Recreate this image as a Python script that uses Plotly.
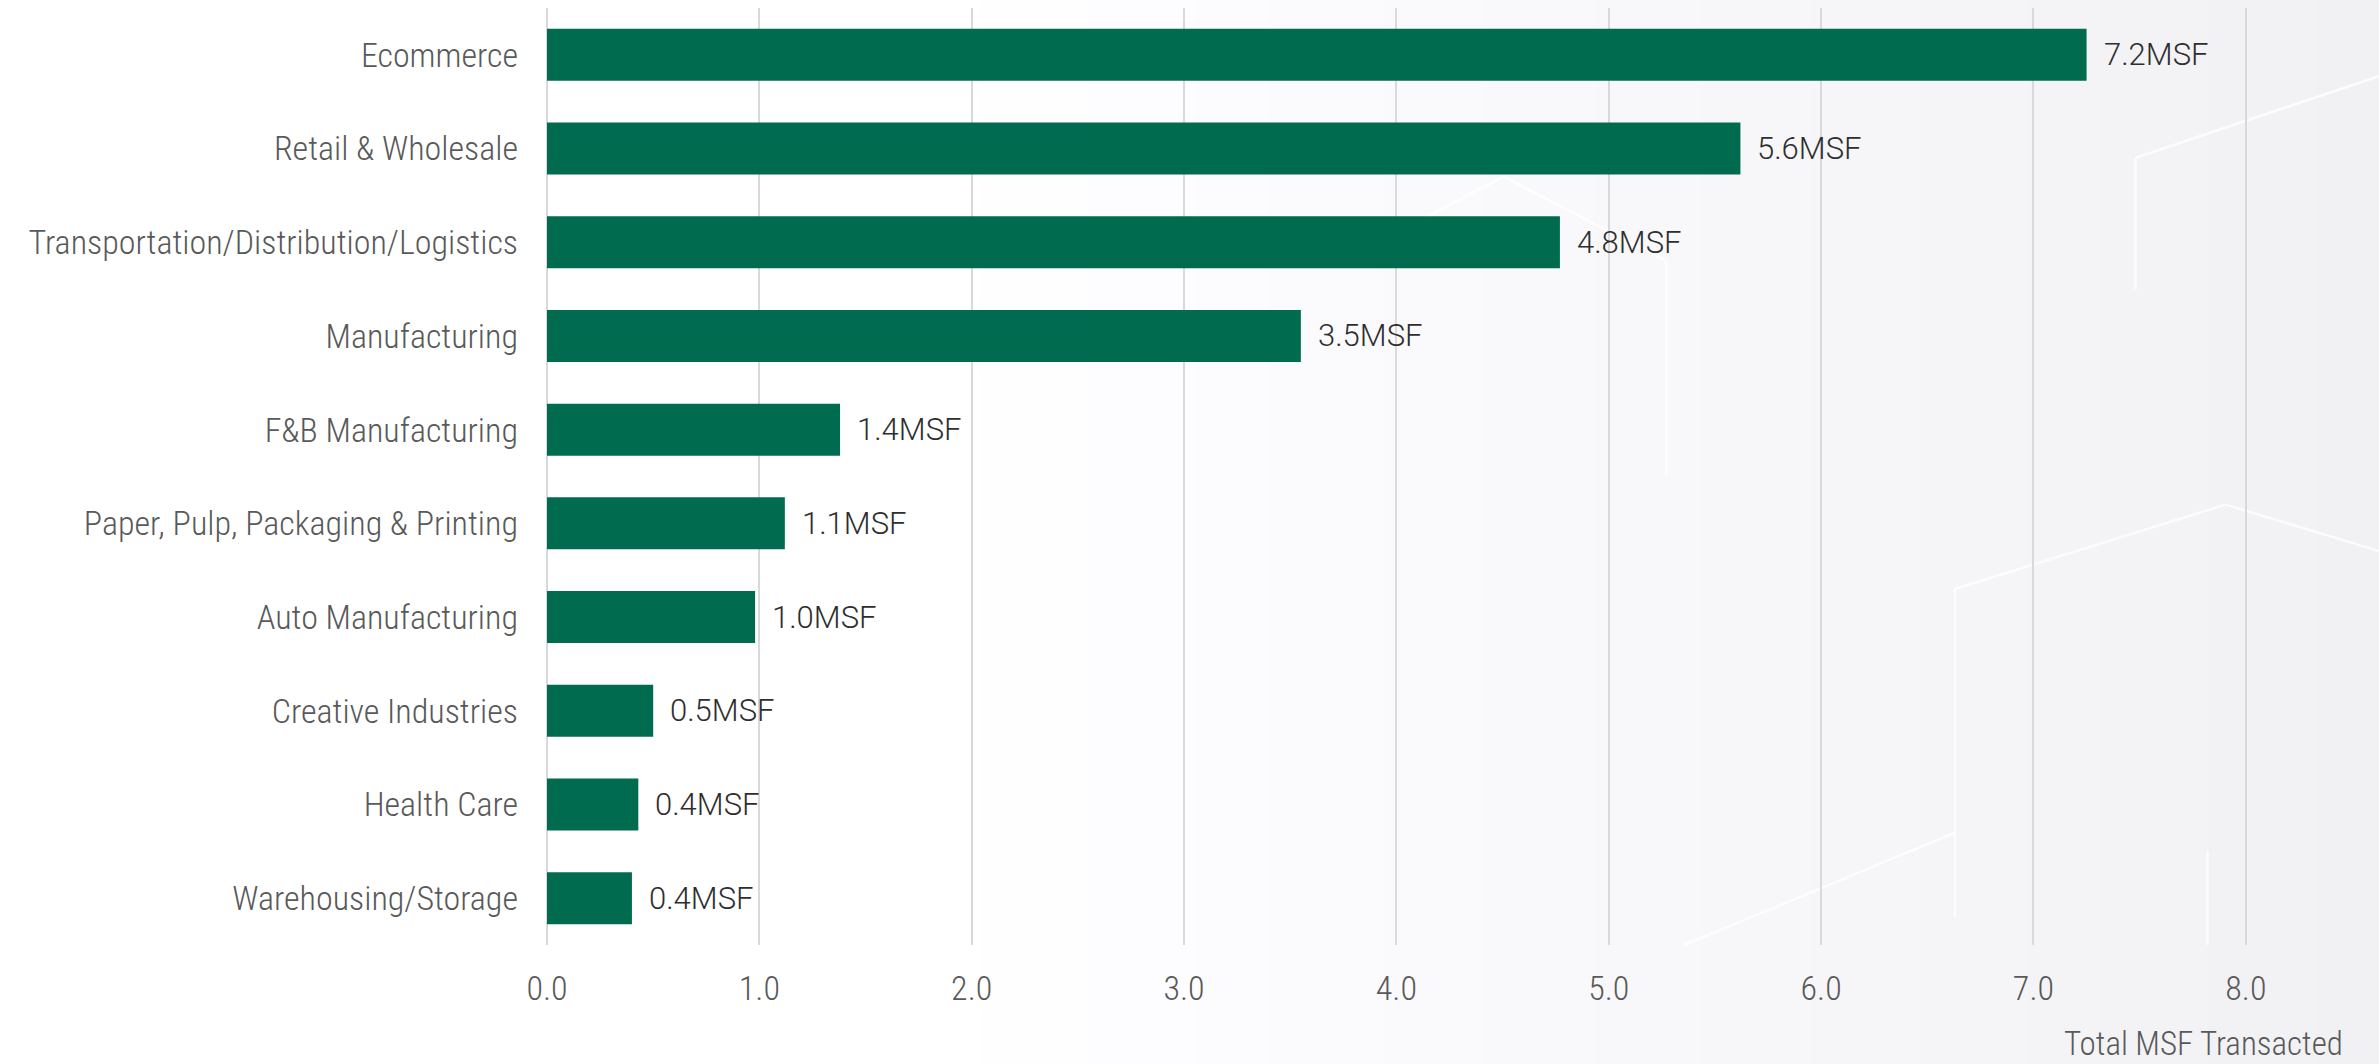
import plotly.graph_objects as go

categories = [
    "Ecommerce",
    "Retail & Wholesale",
    "Transportation/Distribution/Logistics",
    "Manufacturing",
    "F&B Manufacturing",
    "Paper, Pulp, Packaging & Printing",
    "Auto Manufacturing",
    "Creative Industries",
    "Health Care",
    "Warehousing/Storage",
]
values = [7.25, 5.62, 4.77, 3.55, 1.38, 1.12, 0.98, 0.50, 0.43, 0.40]
value_labels = ["7.2MSF", "5.6MSF", "4.8MSF", "3.5MSF", "1.4MSF",
                "1.1MSF", "1.0MSF", "0.5MSF", "0.4MSF", "0.4MSF"]
x_ticks = [0, 1, 2, 3, 4, 5, 6, 7, 8]
x_tick_labels = ["0.0", "1.0", "2.0", "3.0", "4.0", "5.0", "6.0", "7.0", "8.0"]
x_title = "Total MSF Transacted"

LABEL_FONT = "Roboto Condensed, Liberation Sans Narrow, Roboto, sans-serif"
VALUE_FONT = "Roboto, Lato, sans-serif"
BAR_COLOR = "#006B4F"

fig = go.Figure()
fig.add_trace(go.Bar(
    x=values,
    y=categories,
    orientation="h",
    marker=dict(color=BAR_COLOR, line=dict(width=0)),
    hoverinfo="skip",
))

for v, c, t in zip(values, categories, value_labels):
    fig.add_annotation(
        x=v, y=c, text=t, showarrow=False,
        xanchor="left", yanchor="middle", xshift=15,
        font=dict(family=VALUE_FONT, size=31, color="#2E2E2E", weight=300),
    )

fig.add_annotation(
    x=1.0, y=0, xref="paper", yref="paper", text=x_title, showarrow=False,
    xanchor="right", yanchor="middle", xshift=-7, yshift=-98,
    font=dict(family=LABEL_FONT, size=33, color="#595959", weight=300),
)

# soft background gradient (white on the left, light grey on the right)
n = 40
for i in range(n):
    x0 = 0.22 + (0.80 * i / n)
    shade = 255 - round(14 * (i + 1) / n)
    fig.add_shape(
        type="rect", xref="paper", yref="paper",
        x0=x0, x1=1.05, y0=-0.2, y1=1.05,
        fillcolor=f"rgb({shade},{shade},{min(255, shade + 2)})",
        line=dict(width=0), layer="below",
    )

# faint decorative white lines in the background (hexagon motif)
deco = [
    (0.44, 0.73, 0.53, 0.82), (0.53, 0.82, 0.62, 0.73), (0.62, 0.73, 0.62, 0.50),
    (0.78, 0.03, 0.78, 0.38), (0.78, 0.38, 0.93, 0.47), (0.93, 0.47, 1.05, 0.40),
    (0.63, 0.0, 0.78, 0.12), (0.88, 0.84, 0.88, 0.70), (0.88, 0.84, 1.05, 0.95),
    (0.92, 0.10, 0.92, 0.0),
]
for x0, y0, x1, y1 in deco:
    fig.add_shape(
        type="line", xref="paper", yref="paper",
        x0=x0, y0=y0, x1=x1, y1=y1,
        line=dict(color="rgba(255,255,255,0.75)", width=2.5), layer="below",
    )

fig.update_layout(
    width=2379,
    height=1064,
    margin=dict(l=547, r=27, t=8, b=119),
    paper_bgcolor="#FFFFFF",
    plot_bgcolor="rgba(0,0,0,0)",
    bargap=0.445,
    showlegend=False,
    xaxis=dict(
        range=[0, 8.5],
        tickvals=x_ticks,
        ticktext=x_tick_labels,
        showgrid=True,
        gridcolor="#D9D9D9",
        gridwidth=2,
        zeroline=True,
        zerolinecolor="#D9D9D9",
        zerolinewidth=2,
        showline=False,
        ticks="",
        ticklabelstandoff=20,
        tickfont=dict(family=LABEL_FONT, size=34, color="#595959", weight=300),
    ),
    yaxis=dict(
        autorange="reversed",
        showgrid=False,
        showline=False,
        ticks="",
        ticklabelstandoff=28,
        tickfont=dict(family=LABEL_FONT, size=34, color="#595959", weight=300),
    ),
)

fig.write_html("out.html")
